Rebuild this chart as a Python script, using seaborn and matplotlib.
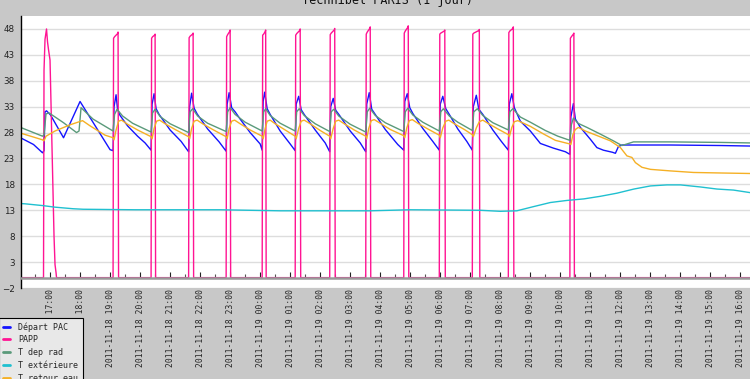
import numpy as np
import pandas as pd
import matplotlib
matplotlib.use("Agg")
import matplotlib.pyplot as plt
import matplotlib.dates as mdates
from matplotlib.lines import Line2D
from matplotlib.ticker import MultipleLocator
import seaborn as sns

# ---------------- data ----------------
title = "Technibel PARIS (1 jour)"
start = "2011-11-18 16:00"
names = ["Départ PAC", "PAPP", "T dep rad", "T extérieure", "T retour eau"]
colors = ["#1414ff", "#ff1493", "#5a9a7a", "#20c0d0", "#f5b025"]

# minutes after start, and values
dep_min = [1, 27, 45, 48, 50, 53, 61, 87, 120, 180, 186,
           188, 192, 195, 200, 215, 235, 250, 262,
           264, 268, 272, 278, 300, 322, 337,
           339, 343, 348, 354, 375, 398, 412,
           414, 418, 423, 430, 440, 460, 480, 484,
           486, 489, 494, 500, 520, 540, 550,
           552, 557, 562, 568, 590, 610, 619,
           621, 626, 631, 638, 660, 680, 691,
           693, 698, 703, 710, 730, 755, 767,
           769, 774, 779, 785, 805, 825, 838,
           840, 845, 851, 858, 875, 893, 904,
           906, 912, 917, 925, 945, 962, 976,
           978, 983, 988, 1000, 1020, 1040, 1066, 1090, 1099,
           1101, 1106, 1110, 1120, 1140, 1153, 1166, 1184, 1190, 1196, 1203, 1300, 1400, 1460]
dep_val = [27.0, 25.7, 24.1, 24.5, 32.0, 32.2, 31.4, 27.0, 34.0, 24.7, 24.5,
           33.0, 35.3, 32.5, 31.3, 29.3, 27.3, 26.0, 24.6,
           33.5, 35.5, 32.6, 31.5, 28.5, 26.3, 24.3,
           33.0, 35.6, 32.7, 31.6, 28.7, 26.2, 24.4,
           33.5, 35.7, 32.8, 32.0, 30.6, 28.0, 25.8, 24.6,
           34.0, 35.8, 32.6, 31.5, 28.3, 25.8, 24.5,
           33.5, 35.0, 32.4, 31.5, 28.5, 26.0, 24.3,
           33.0, 34.6, 32.3, 31.4, 28.3, 26.0, 24.3,
           33.5, 35.7, 32.5, 31.5, 28.6, 25.7, 24.6,
           34.0, 35.5, 32.8, 31.7, 28.8, 26.3, 24.6,
           33.5, 35.0, 32.6, 31.5, 28.7, 26.3, 24.6,
           33.0, 35.2, 32.5, 31.5, 28.5, 26.3, 24.6,
           33.5, 35.5, 32.8, 30.2, 28.3, 25.9, 25.0, 24.3, 23.8,
           31.0, 33.6, 30.6, 29.0, 26.7, 25.1, 24.6, 24.2, 24.0, 25.3, 25.6, 25.6, 25.5, 25.4]

papp_min = [1, 47, 48, 50, 53, 55, 57, 60, 64, 68, 70, 72, 73,
            186, 187, 189, 195, 196, 197,
            262, 263, 265, 269, 270, 271,
            337, 338, 340, 345, 346, 347,
            412, 413, 415, 419, 420, 421,
            484, 485, 487, 490, 491, 492,
            550, 551, 553, 559, 560, 561,
            619, 620, 622, 628, 629, 630,
            691, 692, 694, 699, 700, 701,
            767, 768, 770, 775, 776, 777,
            838, 839, 841, 848, 849, 850,
            904, 905, 907, 917, 918, 919,
            976, 977, 979, 985, 986, 987,
            1099, 1100, 1102, 1106, 1107, 1108, 1109, 1460]
papp_val = [0, 0, 40, 46, 48, 45.5, 44, 42, 25, 8, 2.5, 1, 0,
            0, 46.2, 46.5, 47.1, 47.4, 0,
            0, 46.2, 46.5, 46.8, 47.0, 0,
            0, 46.3, 46.6, 47.0, 47.2, 0,
            0, 46.5, 46.9, 47.5, 47.8, 0,
            0, 46.8, 47.0, 47.5, 47.8, 0,
            0, 46.8, 47.1, 47.7, 48.0, 0,
            0, 46.9, 47.2, 47.8, 48.1, 0,
            0, 47.0, 47.4, 48.1, 48.4, 0,
            0, 47.2, 47.6, 48.3, 48.6, 0,
            0, 47.0, 47.2, 47.6, 47.8, 0,
            0, 47.0, 47.2, 47.7, 47.9, 0,
            0, 47.3, 47.6, 48.1, 48.4, 0,
            0, 46.2, 46.5, 47.0, 47.2, 0, 0, 0]

rad_min = [1, 45, 48, 52, 58, 87, 113, 118, 122, 146, 186,
           189, 194, 205, 225, 262,
           265, 270, 280, 300, 337,
           340, 345, 355, 375, 412,
           415, 420, 430, 450, 484,
           487, 491, 500, 520, 550,
           553, 558, 568, 590, 619,
           622, 627, 637, 660, 691,
           694, 699, 710, 730, 767,
           770, 775, 785, 805, 838,
           841, 846, 858, 875, 904,
           907, 914, 925, 945, 976,
           979, 985, 1000, 1020, 1050, 1075, 1099,
           1102, 1106, 1115, 1133, 1160, 1186, 1203, 1213, 1226, 1300, 1400, 1460]
rad_val = [29.0, 27.3, 27.6, 31.6, 31.8, 29.9, 28.0, 28.3, 32.8, 30.6, 28.3,
           31.5, 32.5, 31.2, 29.8, 28.1,
           31.8, 32.5, 31.1, 29.7, 28.0,
           32.0, 32.6, 31.2, 29.8, 28.2,
           32.0, 32.8, 31.5, 30.0, 28.3,
           32.0, 32.6, 31.3, 29.8, 28.3,
           32.0, 32.6, 31.3, 29.7, 28.2,
           32.0, 32.5, 31.2, 29.6, 28.1,
           32.0, 32.7, 31.3, 29.9, 28.2,
           32.0, 32.7, 31.4, 30.0, 28.3,
           32.0, 32.6, 31.2, 30.0, 28.4,
           32.0, 32.6, 31.3, 29.9, 28.5,
           32.0, 32.6, 31.0, 30.0, 28.4, 27.3, 26.5,
           29.5, 30.8, 29.8, 29.0, 27.7, 26.4, 25.5, 25.8, 26.2, 26.2, 26.1, 26.0]

ext_min = [1, 10, 46, 70, 106, 126, 230, 400, 520, 700, 780, 920, 960, 993,
           1026, 1060, 1093, 1127, 1160, 1193, 1227, 1260, 1293, 1320, 1360,
           1393, 1426, 1460]
ext_val = [14.3, 14.25, 13.9, 13.6, 13.3, 13.2, 13.1, 13.1, 12.9, 12.9, 13.1,
           13.0, 12.8, 12.9, 13.7, 14.5, 14.9, 15.2, 15.7, 16.3, 17.1, 17.7,
           17.9, 17.9, 17.5, 17.1, 16.9, 16.4]

ret_min = [1, 45, 48, 52, 70, 100, 125, 140, 170, 186,
           188, 192, 197, 203, 215, 235, 262,
           264, 268, 273, 279, 290, 310, 337,
           339, 343, 348, 354, 365, 385, 412,
           414, 418, 423, 429, 440, 460, 484,
           486, 490, 494, 500, 510, 530, 550,
           552, 557, 562, 568, 580, 600, 619,
           621, 626, 631, 637, 648, 668, 691,
           693, 697, 702, 708, 720, 740, 767,
           769, 773, 778, 784, 795, 815, 838,
           840, 845, 851, 857, 868, 888, 904,
           906, 912, 918, 925, 935, 955, 976,
           978, 983, 988, 995, 1020, 1045, 1070, 1099,
           1101, 1105, 1110, 1116, 1130, 1146, 1180, 1200, 1213, 1223, 1230,
           1243, 1260, 1300, 1346, 1400, 1460]
ret_val = [27.9, 26.6, 26.4, 27.3, 28.3, 29.5, 30.3, 29.3, 27.5, 27.0,
           26.6, 28.5, 30.2, 30.4, 29.6, 28.5, 27.2,
           26.8, 28.8, 30.2, 30.4, 29.7, 28.6, 27.2,
           26.8, 28.8, 30.2, 30.4, 29.7, 28.6, 27.2,
           26.8, 28.8, 30.2, 30.4, 29.7, 28.5, 27.3,
           26.8, 28.8, 30.2, 30.4, 29.7, 28.5, 27.3,
           26.8, 28.8, 30.2, 30.4, 29.7, 28.4, 27.3,
           26.8, 28.8, 30.2, 30.4, 29.7, 28.5, 27.3,
           26.8, 28.8, 30.3, 30.5, 29.8, 28.6, 27.4,
           27.0, 28.9, 30.3, 30.5, 29.8, 28.7, 27.5,
           27.0, 28.9, 30.2, 30.4, 29.7, 28.6, 27.6,
           27.2, 28.9, 30.1, 30.4, 29.8, 28.7, 27.6,
           27.2, 29.0, 30.1, 30.3, 29.2, 27.8, 26.5, 25.8,
           25.7, 27.6, 28.6, 29.0, 28.3, 27.7, 26.4, 25.1, 23.5, 23.2, 22.2,
           21.3, 20.9, 20.6, 20.3, 20.2, 20.1]

yticks = list(range(-2, 49, 5))

# ---------------- figure ----------------
sns.set_theme(style="white")
plt.rcParams["font.family"] = ["DejaVu Sans"]

W, H = 750, 379
BG = "#c8c8c8"
fig = plt.figure(figsize=(W / 100, H / 100), dpi=100, facecolor=BG)
x0, ytop, ybot = 20.7, 16, 288
ax = fig.add_axes([x0 / W, 1 - ybot / H, 1 - x0 / W, (ybot - ytop) / H])
ax.set_facecolor("white")

t0 = pd.Timestamp(start)
series = [(dep_min, dep_val), (papp_min, papp_val), (rad_min, rad_val),
          (ext_min, ext_val), (ret_min, ret_val)]
for (mins, vals), name, col in zip(series, names, colors):
    df = pd.DataFrame({"t": t0 + pd.to_timedelta(mins, unit="min"), "v": vals})
    sns.lineplot(data=df, x="t", y="v", ax=ax, color=col, lw=1.0,
                 estimator=None, sort=False, legend=False)

ax.set_xlabel("")
ax.set_ylabel("")
ax.set_xlim(t0 + pd.Timedelta(minutes=1.4), t0 + pd.Timedelta(minutes=1459))
ax.set_ylim(-2, 50.5)

# y axis
ax.set_yticks(yticks)
ax.yaxis.set_minor_locator(MultipleLocator(1))
ax.tick_params(axis="y", which="major", direction="inout", length=6, width=0.8,
               color="black", labelsize=6.3, labelcolor="#222222", pad=1.2)
ax.tick_params(axis="y", which="minor", direction="out", length=2.5, width=0.8,
               color="black")
ax.yaxis.grid(True, which="major", color="#dddddd", lw=1)
ax.xaxis.grid(False)

# x axis at value 0
ax.spines["bottom"].set_position(("data", 0))
ax.spines["bottom"].set_color("#999999")
ax.spines["bottom"].set_linewidth(1.8)
ax.spines["bottom"].set_zorder(3)
ax.spines["left"].set_color("black")
ax.spines["left"].set_linewidth(1.0)
ax.spines["top"].set_visible(False)
ax.spines["right"].set_visible(False)

ax.xaxis.set_major_locator(mdates.HourLocator())
ax.xaxis.set_minor_locator(mdates.MinuteLocator(byminute=[30]))
ax.xaxis.set_major_formatter(mdates.DateFormatter("%Y-%m-%d %H:%M"))
ax.tick_params(axis="x", which="major", direction="in", length=4, width=0.8,
               color="#222222", pad=8, labelsize=5.8, labelrotation=90,
               bottom=True)
ax.tick_params(axis="x", which="minor", direction="in", length=3, width=0.8,
               color="#555555", bottom=True)
for lab in ax.get_xticklabels():
    lab.set_family("DejaVu Sans Mono")
    lab.set_va("top")
    lab.set_ha("center")

# title (cut off at top)
fig.text(388 / W, 1 - 4 / H, title, ha="center", va="baseline",
         family="DejaVu Sans Mono", fontsize=8.5, color="#111111")

# legend
handles = [Line2D([], [], color=c, lw=2) for c in colors]
leg = fig.legend(handles, names, loc="upper left",
                 bbox_to_anchor=(-0.002, 1 - 318 / H), bbox_transform=fig.transFigure,
                 frameon=True, fancybox=False, edgecolor="black",
                 facecolor="#e8e8e8", framealpha=1,
                 prop={"family": "DejaVu Sans Mono", "size": 6},
                 handlelength=0.9, handletextpad=1.0, borderpad=0.5,
                 labelspacing=0.45, borderaxespad=0)
leg.get_frame().set_linewidth(0.8)

fig.savefig("out.png", dpi=100, facecolor=BG)
